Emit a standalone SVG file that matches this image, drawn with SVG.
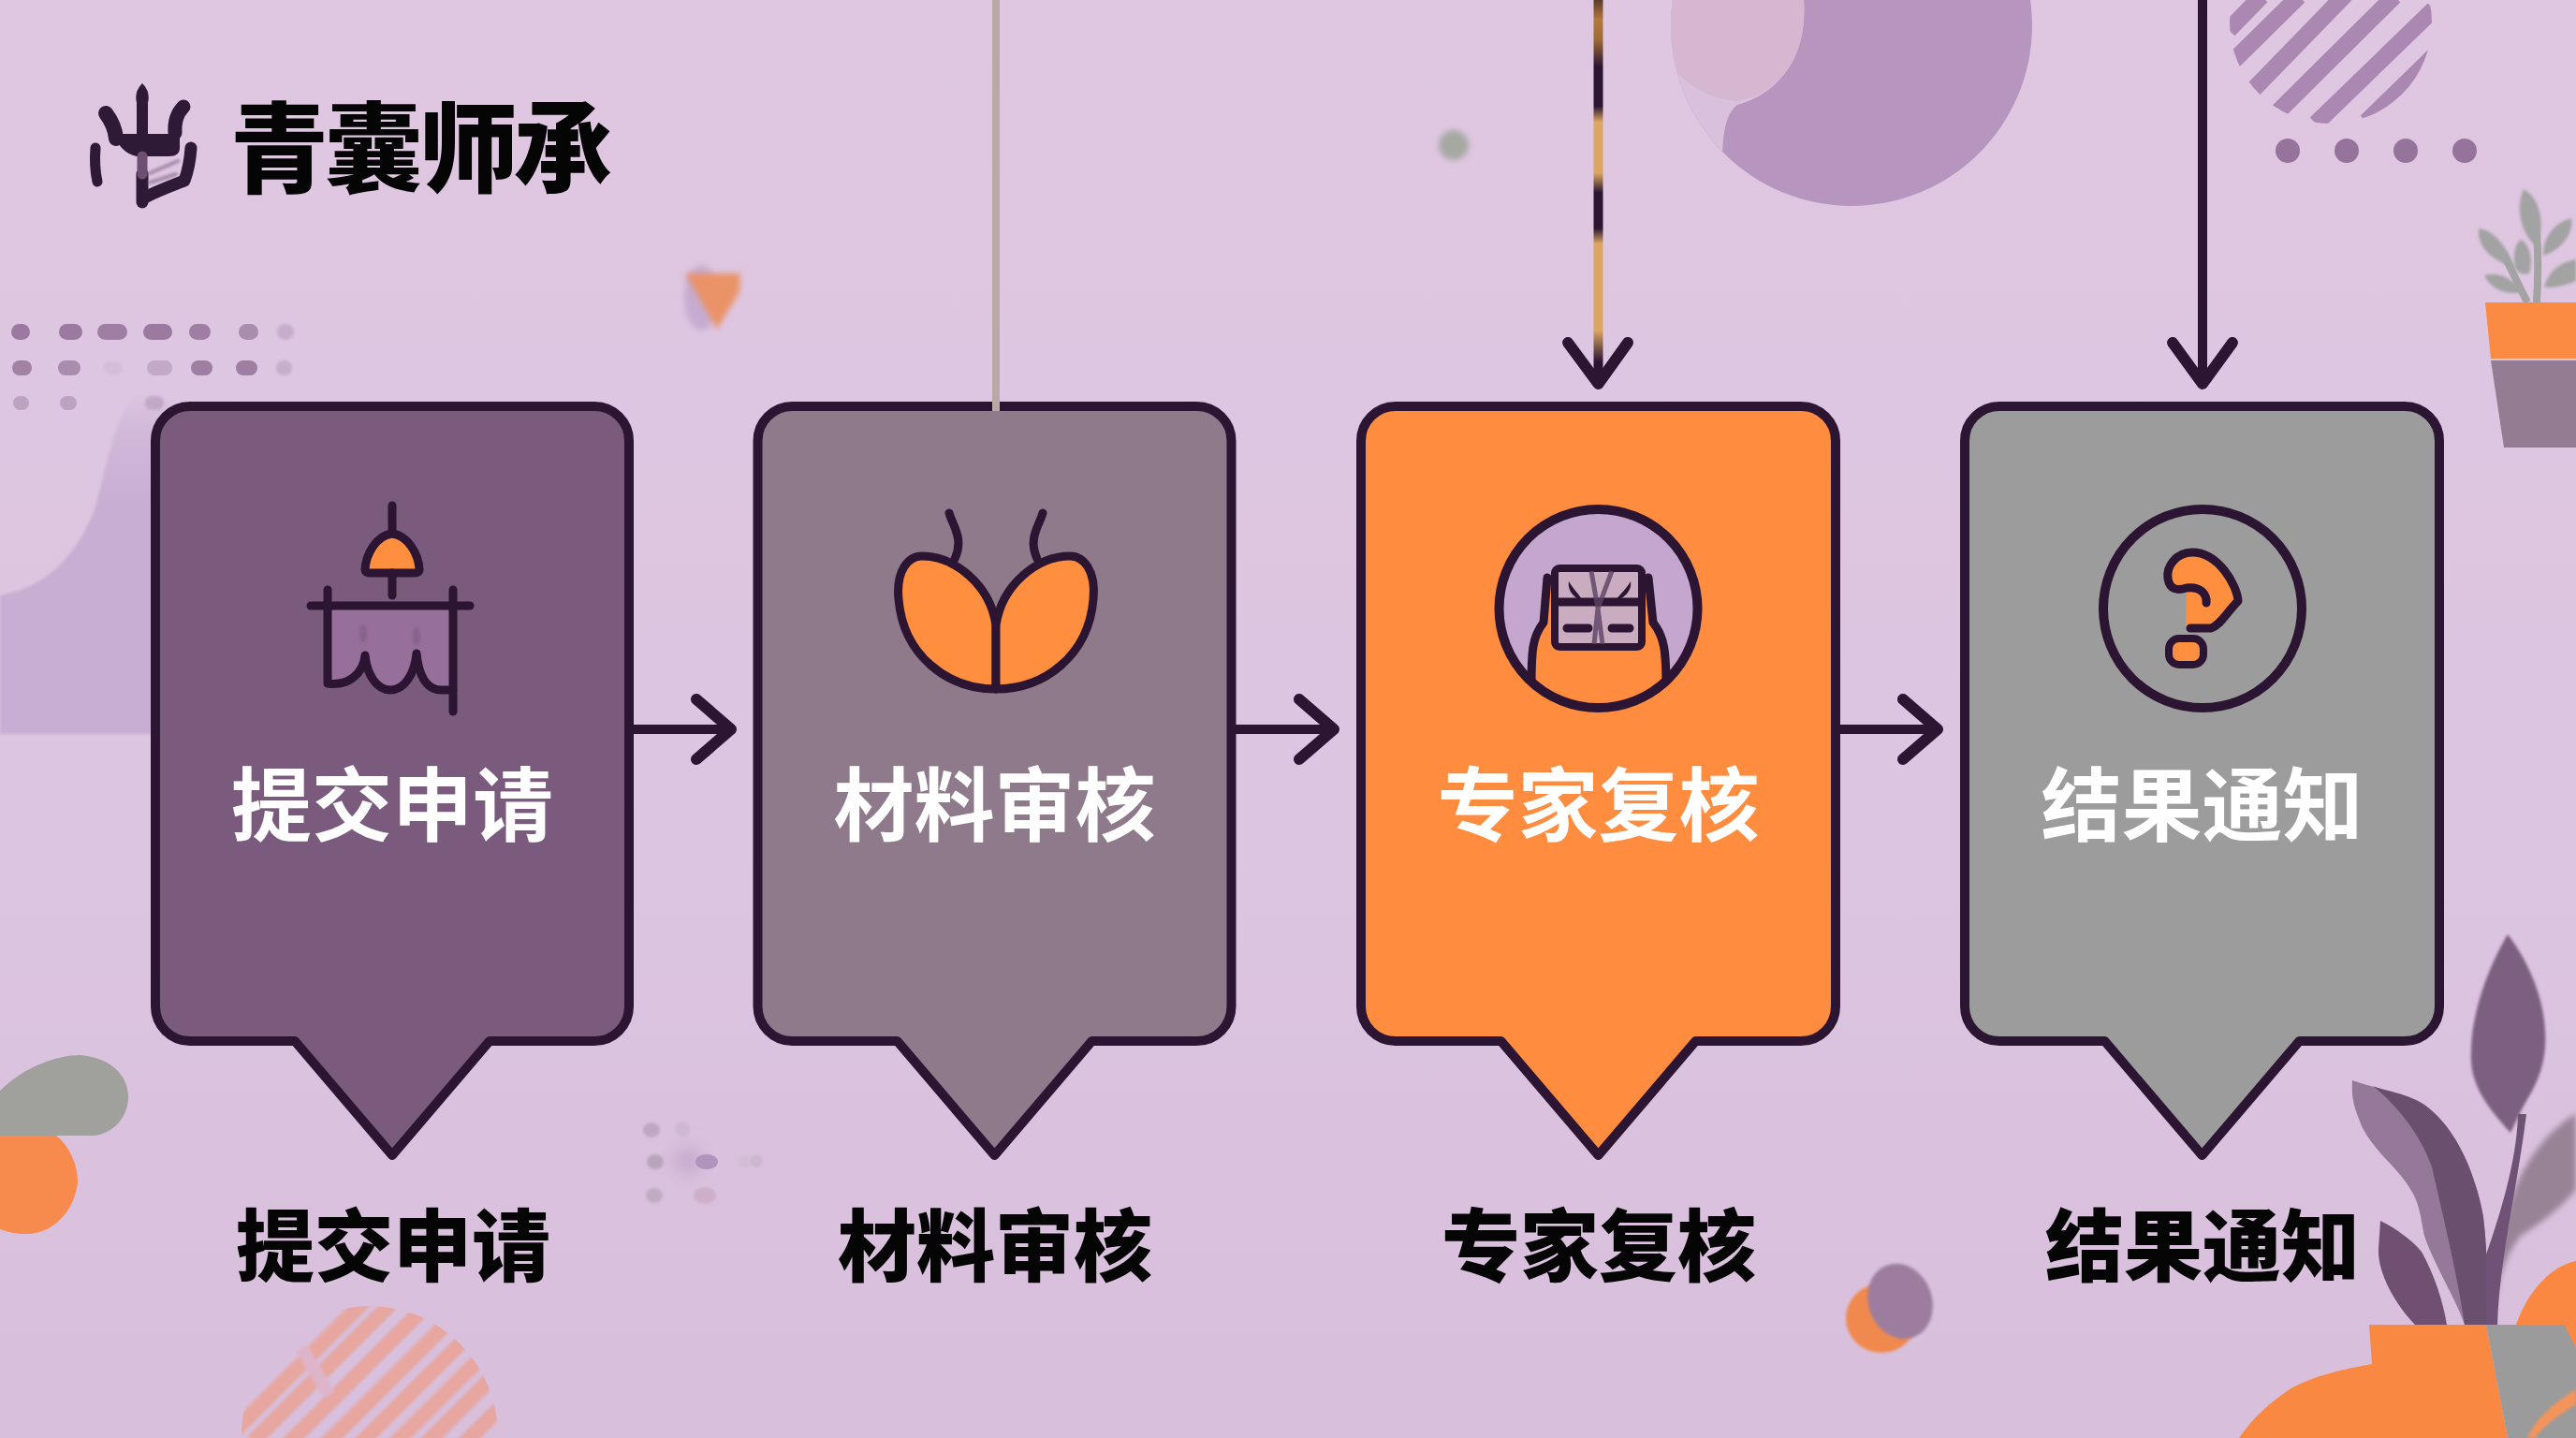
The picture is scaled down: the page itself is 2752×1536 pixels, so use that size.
<svg xmlns="http://www.w3.org/2000/svg" width="2752" height="1536" viewBox="0 0 2752 1536">
  <defs>
    <linearGradient id="paper" x1="0" y1="0" x2="0" y2="1">
      <stop offset="0" stop-color="#dfc7e2"/>
      <stop offset="0.6" stop-color="#dcc5e0"/>
      <stop offset="1" stop-color="#d8bfdc"/>
    </linearGradient>
    <linearGradient id="hillFade" gradientUnits="userSpaceOnUse" x1="0" y1="415" x2="0" y2="540">
      <stop offset="0" stop-color="#c8aed2" stop-opacity="0"/>
      <stop offset="0.35" stop-color="#c8aed2" stop-opacity=".55"/>
      <stop offset="1" stop-color="#c8aed2"/>
    </linearGradient>
    <linearGradient id="stripedLine" gradientUnits="userSpaceOnUse" x1="0" y1="0" x2="0" y2="420">
      <stop offset="0" stop-color="#5a3a2a"/>
      <stop offset="0.05" stop-color="#b27a3c"/>
      <stop offset="0.1" stop-color="#a06c36"/>
      <stop offset="0.17" stop-color="#2b1533"/>
      <stop offset="0.27" stop-color="#2b1533"/>
      <stop offset="0.31" stop-color="#dca660"/>
      <stop offset="0.44" stop-color="#dca660"/>
      <stop offset="0.49" stop-color="#2b1533"/>
      <stop offset="0.58" stop-color="#2b1533"/>
      <stop offset="0.62" stop-color="#dca660"/>
      <stop offset="0.84" stop-color="#dca660"/>
      <stop offset="0.92" stop-color="#2b1533"/>
      <stop offset="1" stop-color="#2b1533"/>
    </linearGradient>
    <filter id="soft" x="-20%" y="-20%" width="140%" height="140%"><feGaussianBlur stdDeviation="1.6"/></filter>
    <filter id="softer" x="-40%" y="-40%" width="180%" height="180%"><feGaussianBlur stdDeviation="3"/></filter>
    <filter id="haze" x="-80%" y="-80%" width="260%" height="260%"><feGaussianBlur stdDeviation="9"/></filter>
    <clipPath id="moonClip"><circle cx="1978" cy="27" r="193"/></clipPath>
    <clipPath id="topStripeClip"><circle cx="2490" cy="24" r="108"/></clipPath>
    <clipPath id="lowStripeClip"><ellipse cx="395" cy="1534" rx="137" ry="139"/></clipPath>
    <clipPath id="expertClip"><circle cx="1707.5" cy="650" r="106"/></clipPath>
    <style>
      .card { stroke: #2b1533; stroke-width: 10; stroke-linejoin: round; }
      .ink { fill: none; stroke: #2b1533; stroke-width: 9; stroke-linecap: round; stroke-linejoin: round; }
      .link { fill: none; stroke: #2b1533; stroke-width: 10; }
      .head { fill: none; stroke: #2b1533; stroke-width: 12; stroke-linecap: round; stroke-linejoin: round; }
      .inner { font-family: "Noto Sans CJK SC", sans-serif; font-weight: 700; font-size: 86px; fill: #ffffff; text-anchor: middle; }
      .outer { font-family: "Noto Sans CJK SC", sans-serif; font-weight: 900; font-size: 84px; fill: #050505; text-anchor: middle; }
      .title { font-family: "Noto Sans CJK SC", sans-serif; font-weight: 900; font-size: 105px; fill: #050505; }
      .dotA { fill: #9a7a9f; }
      .dotB { fill: #a98cae; }
      .dotC { fill: #bca3c2; }
    </style>
  </defs>

  <rect width="2752" height="1536" fill="url(#paper)"/>

  <!-- background shapes -->
  <g id="backdrop">
    <path d="M0 636 C45 628 78 600 100 547 C112 510 120 450 143 423 L170 423 L200 440 V784 H0 Z" fill="url(#hillFade)" filter="url(#soft)"/>
    <g id="dots-left">
      <rect x="12" y="346" width="20" height="17" rx="8.500" class="dotA"/>
      <rect x="63" y="346" width="25" height="17" rx="8.500" class="dotA"/>
      <rect x="104" y="346" width="32" height="17" rx="8.500" class="dotA" opacity=".95"/>
      <rect x="153" y="346" width="31" height="17" rx="8.500" class="dotA"/>
      <rect x="202" y="346" width="23" height="17" rx="8.500" class="dotA" opacity=".95"/>
      <rect x="255" y="346" width="21" height="17" rx="8.500" class="dotB"/>
      <rect x="296" y="346" width="18" height="17" rx="8.500" class="dotC" filter="url(#soft)" opacity=".7"/>
      <rect x="13" y="385" width="21" height="16" rx="8" class="dotA" opacity=".9"/>
      <rect x="62" y="385" width="24" height="16" rx="8" class="dotB"/>
      <rect x="111" y="386" width="20" height="14" rx="7" class="dotC" filter="url(#soft)" opacity=".25"/>
      <rect x="157" y="385" width="27" height="16" rx="8" class="dotC" opacity=".85"/>
      <rect x="204" y="385" width="23" height="16" rx="8" class="dotA" opacity=".95"/>
      <rect x="252" y="385" width="23" height="16" rx="8" class="dotA" opacity=".95"/>
      <rect x="295" y="385" width="17" height="16" rx="8" class="dotC" filter="url(#soft)" opacity=".7"/>
      <rect x="14" y="423" width="17" height="15" rx="7.500" class="dotC"/>
      <rect x="64" y="423" width="18" height="15" rx="7.500" class="dotC"/>
      <rect x="155" y="423" width="20" height="15" rx="7.500" class="dotC" opacity=".8" filter="url(#soft)"/>
    </g>
    <g id="pick">
      <ellipse cx="749" cy="318" rx="18" ry="35" fill="#c6acd0" filter="url(#softer)"/>
      <path d="M732 292 H791 L790 312 L766 352 Z" fill="#ea9368" filter="url(#softer)"/>
    </g>
    <circle cx="1553" cy="155" r="16" fill="#a6a8a2" filter="url(#softer)"/>
    <g id="moon">
      <circle cx="1978" cy="27" r="193" fill="#b695bf"/>
      <g clip-path="url(#moonClip)">
        <path d="M1770 -10 V200 H1841 C1838 145 1843 122 1856 112 C1900 100 1935 60 1926 -10 Z" fill="#d9c0dc"/>
        <path d="M1775 -10 V60 C1795 85 1820 106 1856 108 C1900 100 1935 60 1926 -10 Z" fill="#d6b7d1"/>
      </g>
    </g>
    <g id="stripes-top" clip-path="url(#topStripeClip)" stroke="#ab88b2" stroke-width="18" fill="none">
      <path d="M2381 32 L2416 -4"/>
      <path d="M2383 68 L2456 -4"/>
      <path d="M2405 98 L2506 -6"/>
      <path d="M2433 120 L2558 -4"/>
      <path d="M2474 132 L2600 10"/>
      <path d="M2528 130 L2600 60"/>
    </g>
    <g id="dots-top" fill="#96739a">
      <circle cx="2444" cy="161" r="13"/>
      <circle cx="2507" cy="161" r="13"/>
      <circle cx="2570" cy="161" r="13"/>
      <circle cx="2633" cy="161" r="13"/>
    </g>
    <g id="potted-sprig">
      <g fill="#a3a3a3" filter="url(#soft)">
        <path d="M2696 202 C2710 210 2717 228 2714 250 L2708 262 C2695 250 2686 225 2696 202 Z"/>
        <path d="M2648 244 C2664 246 2678 262 2686 286 C2668 280 2646 268 2648 244 Z"/>
        <path d="M2654 294 C2670 290 2686 298 2694 312 C2676 316 2660 308 2654 294 Z"/>
        <path d="M2693 256 C2704 262 2706 280 2702 292 C2694 294 2685 292 2686 276 C2686 266 2688 260 2693 256 Z"/>
        <path d="M2747 233 C2750 250 2735 268 2717 273 C2716 255 2728 238 2747 233 Z"/>
        <path d="M2752 277 C2735 280 2722 290 2718 307 C2735 308 2752 300 2752 300 Z"/>
      </g>
      <path d="M2700 323 L2674 270 M2710 323 C2712 290 2712 260 2708 230" fill="none" stroke="#a3a3a3" stroke-width="8"/>
      <path d="M2655 323 H2752 V383 H2661 Z" fill="#fb8a42"/>
      <path d="M2661 385 H2752 V478 H2675 Z" fill="#947d92"/>
    </g>
    <g id="blob-left">
      <path d="M0 1165 C25 1140 60 1127 86 1127 C120 1130 137 1150 137 1172 C137 1195 118 1213 98 1213 H0 Z" fill="#a0a19c"/>
      <path d="M0 1213 H60 C75 1225 83 1245 83 1262 C80 1295 55 1318 29 1318 C18 1318 8 1316 0 1313 Z" fill="#f78a4d"/>
    </g>
    <g id="dots-faint">
      <circle cx="735" cy="1240" r="15" fill="#c6a9cd" filter="url(#haze)"/>
      <ellipse cx="696" cy="1207" rx="9" ry="8" fill="#bfa7c4" filter="url(#soft)"/>
      <ellipse cx="729" cy="1206" rx="8" ry="8" fill="#cfb8d3" filter="url(#soft)"/>
      <ellipse cx="700" cy="1241" rx="9" ry="8" fill="#b9a4bd" filter="url(#soft)"/>
      <ellipse cx="755" cy="1241" rx="12" ry="8" fill="#b094bd"/>
      <ellipse cx="795" cy="1241" rx="7" ry="7" fill="#d3bdd6" filter="url(#soft)"/>
      <ellipse cx="808" cy="1240" rx="7" ry="7" fill="#cdb6d0" filter="url(#soft)"/>
      <ellipse cx="699" cy="1277" rx="9" ry="8" fill="#c0abc3" filter="url(#soft)"/>
      <ellipse cx="753" cy="1277" rx="12" ry="9" fill="#cfaec9" filter="url(#soft)"/>
    </g>
    <g id="stripes-low" clip-path="url(#lowStripeClip)" stroke="#e8a59b" stroke-width="16" fill="none" opacity=".95">
      <g filter="url(#soft)">
        <path d="M230 1549 L400 1379"/>
        <path d="M270 1540 L430 1380"/>
        <path d="M305 1545 L470 1380"/>
        <path d="M340 1551 L510 1381"/>
        <path d="M380 1547 L545 1382"/>
        <path d="M415 1549 L580 1384"/>
        <path d="M450 1547 L580 1417"/>
        <path d="M490 1548 L580 1458"/>
        <path d="M322 1440 L352 1490" stroke="#dfb4c8" stroke-width="14"/>
      </g>
    </g>
    <g id="ball">
      <ellipse cx="2010" cy="1408" rx="38" ry="37" fill="#f0894d" filter="url(#soft)"/>
      <ellipse cx="2030" cy="1390" rx="34" ry="41" transform="rotate(-20 2030 1390)" fill="#9d7d9f" filter="url(#soft)"/>
    </g>
    <g id="potted-leaves">
      <path d="M2752 1347 C2725 1352 2700 1380 2688 1415 V1480 H2752 Z" fill="#fa8842"/>
      <path d="M2752 1189 C2720 1210 2695 1240 2680 1290 C2670 1330 2660 1380 2658 1415 H2662 C2665 1370 2680 1335 2693 1320 C2725 1300 2745 1280 2752 1270 Z" fill="#988296" filter="url(#softer)"/>
      <path d="M2679 998 C2700 1025 2722 1070 2719 1118 C2717 1150 2702 1170 2694 1185 L2682 1210 C2660 1185 2638 1160 2640 1125 C2640 1080 2660 1030 2679 998 Z" fill="#7d5f82" filter="url(#soft)"/>
      <path d="M2513 1154 C2545 1165 2570 1168 2590 1180 C2625 1205 2645 1255 2653 1300 C2658 1340 2657 1380 2656 1415 H2633 C2625 1390 2600 1350 2590 1320 C2585 1295 2585 1285 2573 1267 C2560 1245 2530 1225 2520 1195 C2514 1180 2512 1170 2513 1154 Z" fill="#96799a"/>
      <path d="M2535 1160 C2550 1166 2572 1168 2590 1180 C2625 1205 2645 1255 2653 1300 C2658 1340 2657 1380 2656 1415 H2633 C2625 1360 2610 1300 2598 1246 C2585 1210 2560 1180 2535 1160 Z" fill="#6b4f6f"/>
      <path d="M2543 1304 C2560 1312 2578 1326 2587 1337 C2600 1360 2610 1390 2614 1415 H2580 C2560 1395 2540 1360 2541 1335 Z" fill="#6f5072"/>
      <path d="M2690 1190 C2689 1240 2670 1300 2656 1340 V1415 H2668 C2670 1345 2690 1265 2699 1190 Z" fill="#6f5275"/>
      <path d="M2531 1415 H2656 L2679 1536 H2392 C2410 1510 2430 1495 2446 1484 C2470 1470 2505 1462 2534 1457 Z" fill="#f98842"/>
      <path d="M2656 1415 H2740 L2752 1440 V1536 H2679 Z" fill="#9b9b9b"/>
      <path d="M2700 1536 C2712 1510 2735 1495 2752 1484 V1500 C2735 1510 2715 1525 2708 1536 Z" fill="#f5945a" filter="url(#soft)"/>
      <path d="M2740 1415 H2752 V1440 Z" fill="#fa8842"/>
    </g>
  </g>

  <!-- brand mark and name -->
  <g id="brand">
    <g id="brand-mark" fill="none" stroke="#2e1a36" stroke-linecap="round" stroke-linejoin="round">
      <path d="M152 100 V150" stroke-width="12"/>
      <path d="M152 89 C143 98 143 110 152 120 C161 110 161 98 152 89 Z" fill="#2e1a36" stroke="none"/>
      <path d="M113 121 C120 130 123 138 124 148" stroke-width="16"/>
      <path d="M187 142 C186 128 190 120 196 114" stroke-width="15"/>
      <path d="M122 143 H192 V158 Q192 167 180 167 H146 Q128 163 122 143 Z" fill="#2e1a36" stroke="none"/>
      <path d="M102 158 C101 170 102 185 104 194" stroke-width="11"/>
      <path d="M204 158 C203 172 200 185 197 193 C182 199 165 205 153 212" stroke-width="13"/>
      <path d="M152 186 V216" stroke-width="13"/>
      <path d="M152 167 V186" stroke="#6d4f74" stroke-width="11"/>
      <path d="M160 185 L190 172 M160 195 L188 186" stroke="#7b5d82" stroke-width="4" opacity=".6" filter="url(#soft)"/>
    </g>
    <text class="title" x="246" y="197" textLength="408" lengthAdjust="spacing">青囊师承</text>
  </g>

  <!-- step 1 -->
  <g id="node-submit">
    <path class="card" fill="#7a5a7d" d="M203 434 H635 A37 37 0 0 1 672 471 V1075 A37 37 0 0 1 635 1112 H523 L419 1234 L315 1112 H203 A37 37 0 0 1 166 1075 V471 A37 37 0 0 1 203 434 Z"/>
    <path d="M350 650 H484 V737 H471 C455 737 447 720 445 698 C443 720 432 737 417 737 C402 737 392 720 390 700 C388 720 375 732 350 730 Z" fill="#966f9b"/>
    <path class="ink" d="M419 540 V568"/>
    <path class="ink" style="fill:#ff8f3f" d="M419 570 C402 572 391 592 390 608 Q390 612 395 612 H443 Q448 612 448 608 C447 592 436 572 419 570 Z"/>
    <path class="ink" d="M419 612 V636" stroke-width="6"/>
    <path class="ink" d="M332 647 H502"/>
    <path class="ink" d="M350 630 V730 C372 733 388 720 390 700 C392 720 402 737 417 737 C432 737 443 720 445 698 C447 720 455 737 471 737 H484"/>
    <path class="ink" d="M484 630 V760"/>
    <path d="M350 623 H500" stroke="#2b1533" stroke-width="7" opacity=".35" filter="url(#softer)" fill="none"/>
    <ellipse cx="388" cy="677" rx="4" ry="10" fill="#7a5a7d" opacity=".55" filter="url(#soft)"/>
    <ellipse cx="445" cy="680" rx="4" ry="10" fill="#7a5a7d" opacity=".55" filter="url(#soft)"/>
    <text class="inner" x="419" y="892">提交申请</text>
    <text class="outer" x="420" y="1362">提交申请</text>
  </g>

  <!-- step 2 -->
  <g id="node-review">
    <path class="card" fill="#8e7a8b" d="M846.500 434 H1278.500 A37 37 0 0 1 1315.500 471 V1075 A37 37 0 0 1 1278.500 1112 H1166.500 L1062.500 1234 L958.500 1112 H846.500 A37 37 0 0 1 809.500 1075 V471 A37 37 0 0 1 846.500 434 Z"/>
    <path class="ink" style="fill:#ff8f3f" d="M1064 736 C1012 736 965 700 960 640 C957 610 970 594 985 594 C1020 594 1058 625 1064 668 Z"/>
    <path class="ink" style="fill:#ff8f3f" d="M1064 736 C1116 736 1163 700 1168 640 C1171 610 1158 594 1143 594 C1108 594 1070 625 1064 668 Z"/>
    <path class="ink" d="M1014 548 C1018 562 1030 575 1020 597"/>
    <path class="ink" d="M1114 548 C1110 562 1098 575 1108 597"/>
    <text class="inner" x="1062.500" y="892">材料审核</text>
    <text class="outer" x="1063" y="1362">材料审核</text>
  </g>

  <!-- step 3 -->
  <g id="node-expert">
    <path class="card" fill="#ff8c3f" d="M1491 434 H1924 A37 37 0 0 1 1961 471 V1075 A37 37 0 0 1 1924 1112 H1811.500 L1707.500 1234 L1603.500 1112 H1491 A37 37 0 0 1 1454 1075 V471 A37 37 0 0 1 1491 434 Z"/>
    <circle cx="1707.500" cy="650" r="106" fill="#c4a6cf"/>
    <g clip-path="url(#expertClip)">
      <path d="M1653 617 H1761 L1766 665 C1778 680 1781 695 1781 770 H1634 C1634 695 1637 680 1649 665 Z" fill="#ff8c3f"/>
      <path class="ink" d="M1653 617 L1649 665 C1637 680 1636 695 1636 735 M1761 617 L1766 665 C1778 680 1780 695 1780 735"/>
    </g>
    <circle cx="1707.500" cy="650" r="106" fill="none" stroke="#2b1533" stroke-width="10"/>
    <rect x="1661" y="607" width="93" height="84" rx="5" fill="#c9acbf" stroke="#2b1533" stroke-width="8"/>
    <path class="ink" d="M1665 643 H1750" stroke-width="7"/>
    <path d="M1676 621 C1680 628 1688 636 1691 642 C1684 640 1674 632 1676 621 Z M1742 621 C1738 628 1730 636 1725 642 C1733 640 1744 632 1742 621 Z" fill="#2b1533"/>
    <path class="ink" d="M1674 671 H1697 M1722 671 H1741" stroke-width="7"/>
    <path d="M1700 610 L1707 650 L1712 688 M1722 610 L1707 650 L1703 688" fill="none" stroke="#5d4163" stroke-width="5" opacity=".8"/>
    <text class="inner" x="1707.500" y="892">专家复核</text>
    <text class="outer" x="1708" y="1362">专家复核</text>
  </g>

  <!-- step 4 -->
  <g id="node-notice">
    <path class="card" fill="#9c9c9c" d="M2136 434 H2569 A37 37 0 0 1 2606 471 V1075 A37 37 0 0 1 2569 1112 H2456.500 L2352.500 1234 L2248.500 1112 H2136 A37 37 0 0 1 2099 1075 V471 A37 37 0 0 1 2136 434 Z"/>
    <circle cx="2353" cy="650" r="106" fill="none" stroke="#2b1533" stroke-width="10"/>
    <path d="M2342 590 C2325 590 2314 605 2316 618 C2318 630 2326 631 2336 630 L2335 672 H2362 C2372 668 2378 655 2391 642 C2390 625 2370 590 2342 590 Z" fill="#ff8f3f"/>
    <path class="ink" d="M2340 671 H2362 C2372 668 2378 655 2391 642 C2390 625 2370 590 2342 590 C2325 590 2314 605 2316 618 C2318 630 2326 631 2336 628 C2350 626 2358 634 2357 644"/>
    <rect x="2317" y="682" width="37" height="28" rx="11" fill="#ff8f3f" stroke="#2b1533" stroke-width="8"/>
    <text class="inner" x="2352.500" y="892">结果通知</text>
    <text class="outer" x="2353" y="1362">结果通知</text>
  </g>

  <!-- connectors -->
  <g id="connectors">
    <path d="M1064 0 V439" stroke="#b9a8a5" stroke-width="8" fill="none"/>
    <path d="M1707.500 0 V410" stroke="url(#stripedLine)" stroke-width="10" fill="none"/>
    <path d="M1675 366 L1707.500 410 L1739 366" class="head"/>
    <path d="M2353 0 V410" class="link"/>
    <path d="M2321 366 L2353 410 L2385 366" class="head"/>
    <path d="M677 779 H778" class="link"/>
    <path d="M744 747 L781 779 L744 811" class="head"/>
    <path d="M1320 779 H1422" class="link"/>
    <path d="M1388 747 L1425 779 L1388 811" class="head"/>
    <path d="M1966 779 H2067" class="link"/>
    <path d="M2033 747 L2070 779 L2033 811" class="head"/>
  </g>
</svg>
